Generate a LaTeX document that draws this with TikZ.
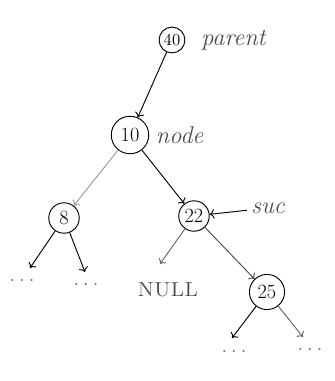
\documentclass[tikz,border=0pt]{standalone}
\usetikzlibrary{positioning,arrows.meta}
\tikzset{
  key/.style={circle,draw,thick,minimum size=26pt,inner sep=0pt,font=\LARGE},
  note/.style={font=\huge\itshape,text=black!70},
  dots/.style={font=\huge,text=black!60}
}
\newcommand{\gap}{.\hspace{3pt}.\hspace{3pt}.}
\begin{document}
\begin{tikzpicture}[x=0.03cm,y=-0.03cm,line width=0.8pt,>={To[length=4pt,width=8pt]}]
\useasboundingbox (0,0) rectangle (335,381);
% Define the keys
\node[key,minimum size=22pt,font=\Large] (n40) at (172,40) {40};
\node[note,right=10pt of n40] (parent) {parent};
\node[key,minimum size=32pt] (n10) at (130,135) {10};
\node[note,right=2pt of n10] (node) {node};
\node[key] (n8) at (64,218) {8};
\node[key] (n22) at (194,216) {22};
\node[note] (suc) at (268,208) {suc};
\node[key,minimum size=30pt] (n25) at (267,292) {25};
\node[note,font=\LARGE\scshape] (null) at (168,290) {NULL};

% Loose ends below the leaves
\coordinate (e22l) at (160,264);
\coordinate (e8l) at (30,268);
\coordinate (e8r) at (85,272);
\coordinate (e25l) at (232,338);
\coordinate (e25r) at (303,337);
\node[dots] (d8l) at (22,280) {\gap};
\node[dots] (d8r) at (86,284) {\gap};
\node[dots] (d25l) at (234,351) {\gap};
\node[dots] (d25r) at (310,349) {\gap};

% Construct the links
\draw[->] (n40) -- (n10);
\draw[->,black!40] (n10) -- (n8);
\draw[->] (n10) -- (n22);
\draw[->] (suc) -- (n22);
\draw[->,black!60] (n22) -- (e22l);
\draw[->,black!70] (n22) -- (n25);

% Construct the subtrees
\draw[->] (n8) -- (e8l);
\draw[->] (n8) -- (e8r);
\draw[->] (n25) -- (e25l);
\draw[->,black!60] (n25) -- (e25r);
\end{tikzpicture}
\end{document}
